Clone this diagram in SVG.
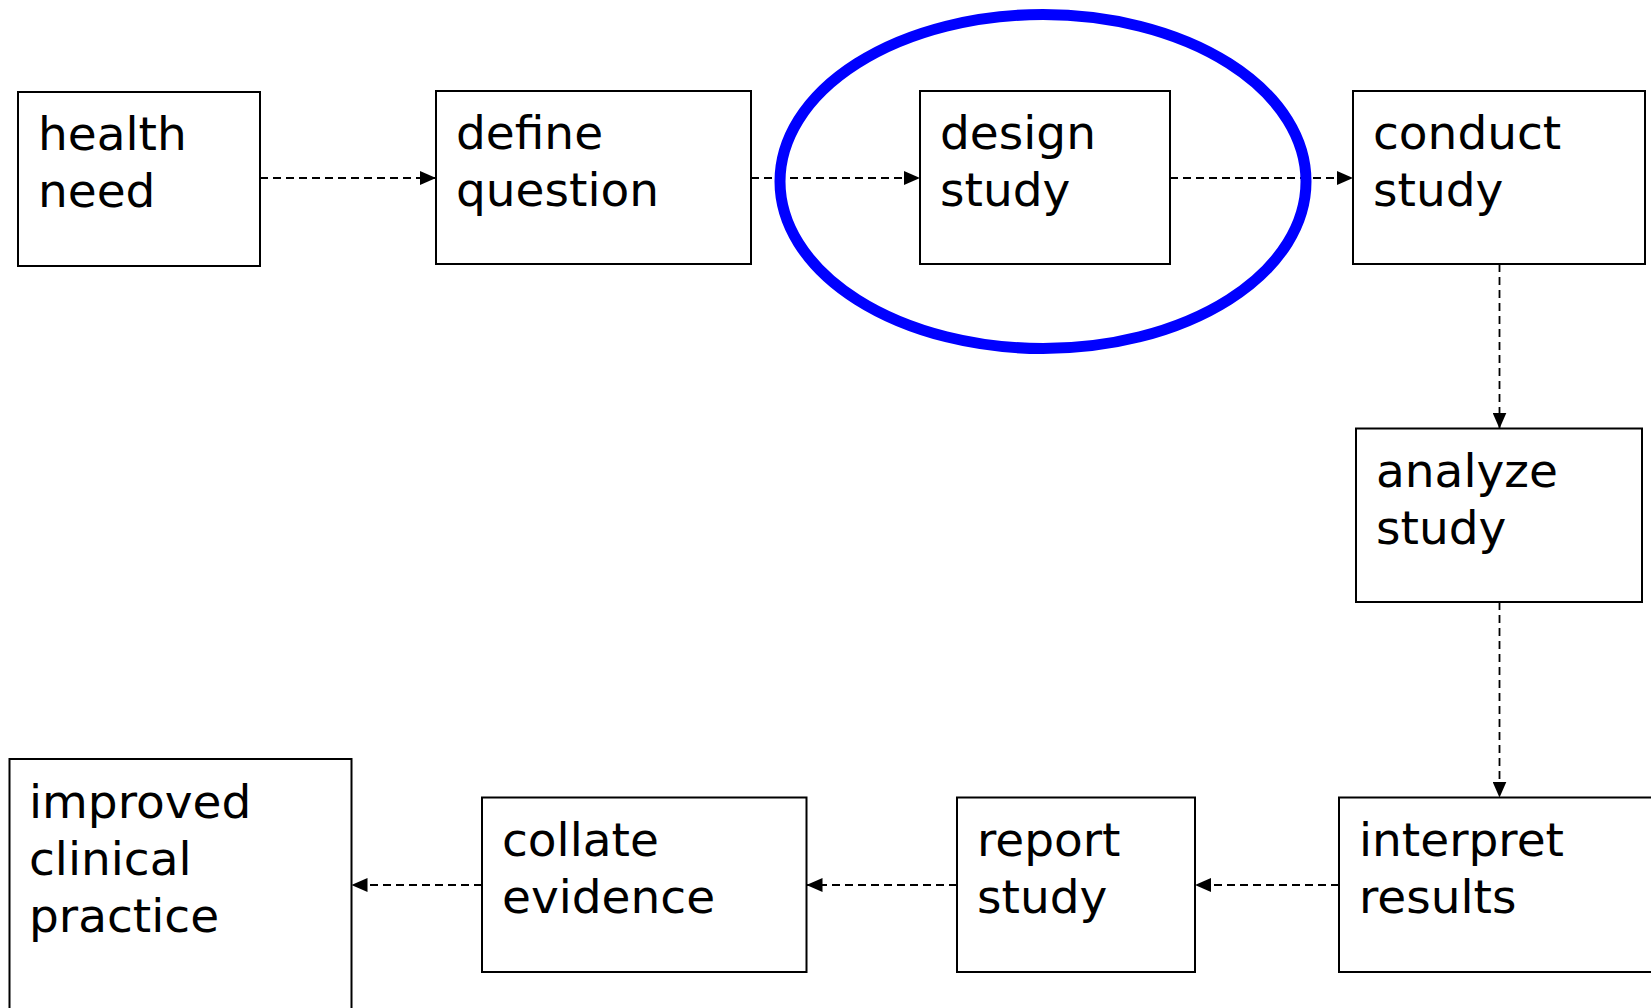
<svg xmlns="http://www.w3.org/2000/svg" width="1651" height="1008" viewBox="0 0 1651 1008">
<defs>
<style>
.box{fill:#fff;stroke:#000;stroke-width:2}
.lbl{font-family:"DejaVu Sans",Verdana,sans-serif;font-size:47px;fill:#000}
.edge{stroke:#000;stroke-width:1.8;stroke-dasharray:8 5;fill:none;marker-end:url(#arr)}
</style>
<marker id="arr" markerUnits="userSpaceOnUse" markerWidth="16" markerHeight="14" refX="16" refY="7" orient="auto">
<path d="M0,0 L16,7 L0,14 z" fill="#000"/>
</marker>
</defs>
<rect width="1651" height="1008" fill="#fff"/>
<g id="connectors">
<line class="edge" x1="260" y1="178" x2="436" y2="178"/>
<line class="edge" x1="751" y1="178" x2="920" y2="178"/>
<line class="edge" x1="1170" y1="178" x2="1353" y2="178"/>
<line class="edge" x1="1499.5" y1="264" x2="1499.5" y2="428.5"/>
<line class="edge" x1="1499.5" y1="602" x2="1499.5" y2="797.5"/>
<line class="edge" x1="1339" y1="885" x2="1195" y2="885"/>
<line class="edge" x1="957" y1="885" x2="806.5" y2="885"/>
<line class="edge" x1="482" y1="885" x2="351.5" y2="885"/>
</g>
<g id="health-need"><rect class="box" x="18" y="92" width="242" height="174"/><text class="lbl" x="38" y="150">health</text><text class="lbl" x="38" y="207">need</text></g>
<g id="define-question"><rect class="box" x="436" y="91" width="315" height="173"/><text class="lbl" x="456" y="149">define</text><text class="lbl" x="456" y="206">question</text></g>
<g id="design-study"><rect class="box" x="920" y="91" width="250" height="173"/><text class="lbl" x="940" y="149">design</text><text class="lbl" x="940" y="206">study</text></g>
<g id="conduct-study"><rect class="box" x="1353" y="91" width="292" height="173"/><text class="lbl" x="1373" y="149">conduct</text><text class="lbl" x="1373" y="206">study</text></g>
<g id="analyze-study"><rect class="box" x="1356" y="428.5" width="286" height="173.5"/><text class="lbl" x="1376" y="487">analyze</text><text class="lbl" x="1376" y="544">study</text></g>
<g id="interpret-results"><rect class="box" x="1339" y="797.5" width="330" height="174.5"/><text class="lbl" x="1359" y="856">interpret</text><text class="lbl" x="1359" y="913">results</text></g>
<g id="report-study"><rect class="box" x="957" y="797.5" width="238" height="174.5"/><text class="lbl" x="977" y="856">report</text><text class="lbl" x="977" y="913">study</text></g>
<g id="collate-evidence"><rect class="box" x="482" y="797.5" width="324.5" height="174.5"/><text class="lbl" x="502" y="856">collate</text><text class="lbl" x="502" y="913">evidence</text></g>
<g id="improved-clinical-practice"><rect class="box" x="9.5" y="759" width="342" height="270"/><text class="lbl" x="29" y="818">improved</text><text class="lbl" x="29" y="875">clinical</text><text class="lbl" x="29" y="932">practice</text></g>
<g id="highlight"><ellipse cx="1043" cy="181.5" rx="263" ry="167" fill="none" stroke="#0000ff" stroke-width="11"/></g>
</svg>
